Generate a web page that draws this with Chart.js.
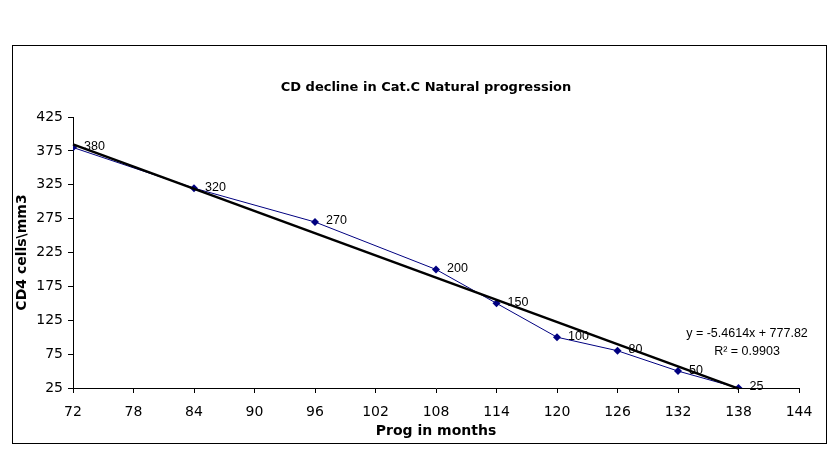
<!DOCTYPE html>
<html>
<head>
<meta charset="utf-8">
<script src="https://cdn.jsdelivr.net/npm/chart.js@4"></script>
<style>
  body { margin: 0; background: #fff; }
  #chart { display: block; }
</style>
</head>
<body>
<canvas id="chart" width="836" height="452"></canvas>
<script>
// values
const months = [72, 84, 96, 108, 114, 120, 126, 132, 138];
const cd4 = [380, 320, 270, 200, 150, 100, 80, 50, 25];
// trendline ends (y = -5.4614x + 777.82)
const trendX = [72, 138];
const trendY = [384.6, 24.1];
const xTicks = [72, 78, 84, 90, 96, 102, 108, 114, 120, 126, 132, 138, 144];
const yTicks = [25, 75, 125, 175, 225, 275, 325, 375, 425];
const eqText = 'y = -5.4614x + 777.82';
const r2Text = 'R\u00b2 = 0.9903';

const pointData = months.map((m, i) => ({ x: m, y: cd4[i] }));
const trendData = trendX.map((m, i) => ({ x: m, y: trendY[i] }));

const sans = '"DejaVu Sans", Verdana, sans-serif';

// frame, value labels and the trend equation
const extras = {
  id: 'extras',
  afterDatasetsDraw(chart) {
    const ctx = chart.ctx;
    const area = chart.chartArea;
    ctx.save();
    ctx.strokeStyle = '#000';
    ctx.lineWidth = 1;
    ctx.strokeRect(12.5, 45.5, 814, 398);

    ctx.fillStyle = '#000';
    ctx.font = '12.5px "Liberation Sans", Arial, sans-serif';
    ctx.textAlign = 'left';
    ctx.textBaseline = 'middle';
    chart.getDatasetMeta(0).data.forEach((pt, i) => {
      ctx.fillText(String(cd4[i]), pt.x + 11, pt.y - 1);
    });

    ctx.textAlign = 'center';
    ctx.fillText(eqText, area.right - 52, 334);
    ctx.fillText(r2Text, area.right - 52, 352);
    ctx.restore();
  }
};

new Chart(document.getElementById('chart'), {
  type: 'scatter',
  data: {
    datasets: [
      {
        data: pointData,
        showLine: true,
        borderColor: '#000080',
        backgroundColor: '#000080',
        borderWidth: 1,
        pointStyle: 'rectRot',
        pointRadius: 4,
        pointBorderWidth: 0,
        order: 2
      },
      {
        data: trendData,
        showLine: true,
        borderColor: '#000',
        borderWidth: 2.5,
        pointRadius: 0,
        clip: false,
        order: 1
      }
    ]
  },
  options: {
    responsive: false,
    animation: false,
    devicePixelRatio: 1,
    layout: { padding: { left: 10, top: 117, right: 37, bottom: 8 } },
    plugins: {
      legend: { display: false },
      tooltip: { enabled: false },
      title: { display: false }
    },
    scales: {
      x: {
        type: 'linear',
        min: 72,
        max: 144,
        afterBuildTicks: (s) => { s.ticks = xTicks.map(v => ({ value: v })); },
        afterFit: (s) => { s.height = 56; },
        grid: { drawOnChartArea: false, tickLength: 5, color: '#000' },
        border: { color: '#000', width: 1 },
        ticks: {
          color: '#000',
          padding: 11,
          maxRotation: 0,
          autoSkip: false,
          font: { family: sans, size: 14 }
        },
        title: {
          display: true,
          text: 'Prog in months',
          color: '#000',
          padding: 4,
          font: { family: sans, size: 14, weight: 'bold' }
        }
      },
      y: {
        min: 25,
        max: 425,
        afterBuildTicks: (s) => { s.ticks = yTicks.map(v => ({ value: v })); },
        afterFit: (s) => { s.width = 63; },
        grid: { drawOnChartArea: false, tickLength: 5, color: '#000' },
        border: { color: '#000', width: 1 },
        ticks: {
          color: '#000',
          padding: 5,
          autoSkip: false,
          font: { family: sans, size: 14 }
        },
        title: {
          display: true,
          text: 'CD4 cells\\mm3',
          color: '#000',
          padding: 4,
          font: { family: sans, size: 14, weight: 'bold' }
        }
      }
    }
  },
  plugins: [extras, {
    id: 'chartTitle',
    afterDraw(chart) {
      const ctx = chart.ctx;
      ctx.save();
      ctx.fillStyle = '#000';
      ctx.font = 'bold 13px ' + sans;
      ctx.textAlign = 'center';
      ctx.textBaseline = 'middle';
      ctx.fillText('CD decline in Cat.C Natural progression', 426, 88);
      ctx.restore();
    }
  }]
});
</script>
</body>
</html>
